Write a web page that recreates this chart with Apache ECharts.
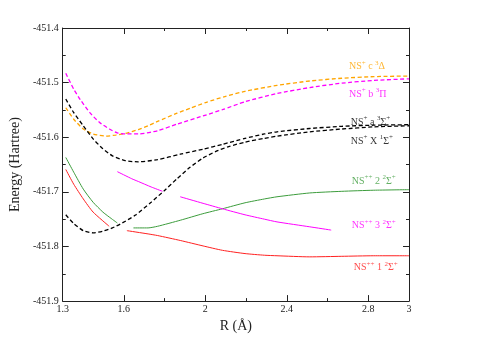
<!DOCTYPE html>
<html>
<head>
<meta charset="utf-8">
<script src="https://cdn.jsdelivr.net/npm/echarts@6/dist/echarts.min.js"></script>
<style>
  html, body { margin: 0; padding: 0; background: #fff; }
  #main { width: 478px; height: 338px; }
</style>
</head>
<body>
<div id="main"></div>
<script>
// potential energy curves, [R (Å), E (Hartree)]
var cDelta = [[1.315,-451.546],[1.354,-451.567],[1.401,-451.585],[1.449,-451.594],[1.513,-451.598],[1.560,-451.596],[1.608,-451.593],[1.671,-451.586],[1.719,-451.579],[1.766,-451.571],[1.861,-451.556],[1.925,-451.547],[2.005,-451.536],[2.100,-451.525],[2.195,-451.516],[2.352,-451.505],[2.513,-451.497],[2.670,-451.492],[2.827,-451.489],[3.0,-451.488]];
var bPi = [[1.315,-451.483],[1.354,-451.512],[1.386,-451.531],[1.433,-451.555],[1.481,-451.573],[1.529,-451.585],[1.568,-451.592],[1.608,-451.594],[1.671,-451.594],[1.766,-451.588],[1.861,-451.576],[1.989,-451.561],[2.084,-451.5495],[2.195,-451.535],[2.352,-451.520],[2.513,-451.509],[2.670,-451.501],[2.827,-451.496],[3.0,-451.493]];
var aSigma = [[1.315,-451.530],[1.354,-451.555],[1.401,-451.579],[1.449,-451.603],[1.497,-451.621],[1.544,-451.634],[1.608,-451.643],[1.671,-451.645],[1.766,-451.641],[1.877,-451.631],[1.988,-451.622],[2.084,-451.613],[2.195,-451.602],[2.290,-451.594],[2.352,-451.590],[2.513,-451.584],[2.670,-451.580],[2.827,-451.578],[3.0,-451.577]];
var xSigma = [[1.315,-451.742],[1.354,-451.758],[1.401,-451.771],[1.449,-451.775],[1.497,-451.772],[1.544,-451.766],[1.592,-451.757],[1.655,-451.743],[1.734,-451.719],[1.798,-451.698],[1.861,-451.676],[1.925,-451.655],[1.989,-451.638],[2.052,-451.626],[2.115,-451.617],[2.195,-451.609],[2.290,-451.602],[2.352,-451.598],[2.513,-451.590],[2.670,-451.585],[2.827,-451.581],[3.0,-451.579]];
var dic2a = [[1.315,-451.637],[1.354,-451.664],[1.401,-451.695],[1.449,-451.719],[1.497,-451.737],[1.528,-451.746],[1.568,-451.757]];
var dic2b = [[1.647,-451.766],[1.719,-451.766],[1.766,-451.763],[1.877,-451.752],[1.988,-451.740],[2.084,-451.731],[2.195,-451.720],[2.290,-451.713],[2.352,-451.709],[2.513,-451.702],[2.670,-451.699],[2.827,-451.697],[3.0,-451.696]];
var dic1a = [[1.315,-451.659],[1.354,-451.686],[1.401,-451.713],[1.449,-451.737],[1.528,-451.763]];
var dic1b = [[1.615,-451.771],[1.719,-451.777],[1.766,-451.780],[1.877,-451.789],[1.989,-451.799],[2.084,-451.807],[2.195,-451.813],[2.290,-451.816],[2.352,-451.817],[2.513,-451.819],[2.670,-451.818],[2.827,-451.817],[3.0,-451.817]];
var dic3a = [[1.568,-451.663],[1.639,-451.676],[1.671,-451.681],[1.734,-451.691],[1.790,-451.699]];
var dic3b = [[1.877,-451.709],[1.989,-451.721],[2.084,-451.731],[2.195,-451.742],[2.290,-451.750],[2.352,-451.755],[2.513,-451.764],[2.618,-451.770]];

var xLabelValues = [1.3, 1.6, 2, 2.4, 2.8, 3];
var xMajorTicks = [1.6, 2, 2.4, 2.8];
var xMinorTicks = [1.8, 2.2, 2.6];

// state labels: text, [R, E] of left edge / middle
var labelTexts = [
  '{b|NS}{s|+}{b| c }{s|3}{b|Δ}',
  '{b|NS}{s|+}{b| b }{s|3}{b|Π}',
  '{b|NS}{s|+}{b| a }{s|3}{b|Σ}{s|+}',
  '{b|NS}{s|+}{b| X }{s|1}{b|Σ}{s|+}',
  '{b|NS}{s|++}{b| 2 }{s|2}{b|Σ}{s|+}',
  '{b|NS}{s|++}{b| 3 }{s|2}{b|Σ}{s|+}',
  '{b|NS}{s|++}{b| 1 }{s|2}{b|Σ}{s|+}'
];
var labelPos = [[2.705,-451.470],[2.705,-451.521],[2.714,-451.572],[2.714,-451.607],[2.719,-451.680],[2.719,-451.761],[2.729,-451.838]];
var labelColors = ['#ffa500', '#ff00ff', '#000000', '#000000', '#3c9c3c', '#ff00ff', '#ff2020'];

var font = 'Liberation Serif';

function curve(data, color, dashed) {
  return {
    type: 'line',
    data: data,
    smooth: 0.2,
    showSymbol: false,
    symbol: 'none',
    silent: true,
    lineStyle: { color: color, width: dashed ? 1.3 : 1, type: dashed ? [4, 2.5] : 'solid' }
  };
}

var labelData = labelTexts.map(function (t, i) {
  return {
    value: labelPos[i],
    label: {
      show: true,
      position: 'right',
      distance: 0,
      formatter: t,
      rich: {
        b: { fontFamily: font, fontSize: 10, lineHeight: 14, color: labelColors[i] },
        s: { fontFamily: font, fontSize: 7, lineHeight: 7, verticalAlign: 'top', color: labelColors[i] }
      }
    }
  };
});

function xAxisDef(pos, ticks, len, labels, line) {
  return {
    type: 'value', position: pos, min: 1.3, max: 3,
    axisLine: { show: line, onZero: false, lineStyle: { color: '#222', width: 1 } },
    axisTick: { show: true, inside: true, length: len, customValues: ticks, lineStyle: { color: '#222' } },
    axisLabel: labels ? { show: true, customValues: xLabelValues, fontFamily: font, fontSize: 10, color: '#222', margin: 3,
      formatter: function (v) { return String(+v.toFixed(1)); } } : { show: false },
    splitLine: { show: false }
  };
}

function yAxisDef(pos, labels) {
  return {
    type: 'value', position: pos, min: -451.9, max: -451.4, interval: 0.1,
    axisLine: { show: true, onZero: false, lineStyle: { color: '#222', width: 1 } },
    axisTick: { show: true, inside: true, length: 6, lineStyle: { color: '#222' } },
    minorTick: { show: true, splitNumber: 2, length: 3, lineStyle: { color: '#222' } },
    axisLabel: labels ? { show: true, fontFamily: font, fontSize: 10, color: '#222', margin: 4,
      formatter: function (v) { return v.toFixed(1); } } : { show: false },
    splitLine: { show: false }, minorSplitLine: { show: false },
    name: labels ? 'Energy (Hartree)' : '',
    nameLocation: 'middle', nameGap: 33,
    nameTextStyle: { fontFamily: font, fontSize: 14, color: '#222' }
  };
}

var chart = echarts.init(document.getElementById('main'));
var xs = [
  xAxisDef('bottom', xMajorTicks, 6, true, true),
  xAxisDef('bottom', xMinorTicks, 3, false, false),
  xAxisDef('top', xMajorTicks, 6, false, true),
  xAxisDef('top', xMinorTicks, 3, false, false)
];
xs[0].name = 'R (Å)';
xs[0].nameLocation = 'middle';
xs[0].nameGap = 14;
xs[0].nameTextStyle = { fontFamily: font, fontSize: 14, color: '#222' };

chart.setOption({
  animation: false,
  grid: { left: 52, right: 69, top: 28, bottom: 35 },
  xAxis: xs,
  yAxis: [yAxisDef('left', true), yAxisDef('right', false)],
  series: [
    curve(cDelta, '#ffa500', true),
    curve(bPi, '#ff00ff', true),
    curve(aSigma, '#000000', true),
    curve(xSigma, '#000000', true),
    curve(dic2a, '#3c9c3c', false),
    curve(dic2b, '#3c9c3c', false),
    curve(dic1a, '#ff2020', false),
    curve(dic1b, '#ff2020', false),
    curve(dic3a, '#ff00ff', false),
    curve(dic3b, '#ff00ff', false),
    {
      type: 'scatter',
      symbolSize: 0,
      silent: true,
      data: labelData
    }
  ]
});
</script>
</body>
</html>
